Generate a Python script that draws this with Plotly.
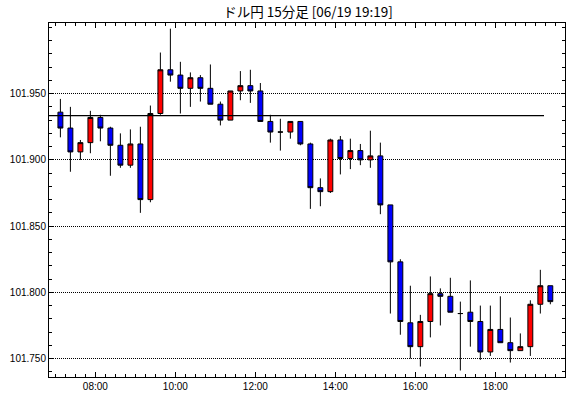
import plotly.graph_objects as go
import pandas as pd

title_text = "ドル円 15分足 [06/19 19:19]"
times = pd.date_range("2014-06-19 07:00", periods=50, freq="15min")

opens = [101.936, 101.924, 101.906, 101.913, 101.932, 101.924, 101.911, 101.896, 101.912, 101.870,
         101.935, 101.968, 101.964, 101.954, 101.962, 101.954, 101.942, 101.930, 101.952, 101.956,
         101.952, 101.929, 101.921, 101.921, 101.929, 101.912, 101.879, 101.876, 101.915, 101.901,
         101.907, 101.900, 101.903, 101.866, 101.823, 101.777, 101.759, 101.778, 101.799, 101.797,
         101.784, 101.785, 101.778, 101.755, 101.772, 101.762, 101.756, 101.759, 101.791, 101.805]
highs = [101.946, 101.940, 101.915, 101.937, 101.934, 101.925, 101.920, 101.923, 101.925, 101.941,
         101.981, 101.999, 101.974, 101.966, 101.964, 101.972, 101.944, 101.952, 101.967, 101.968,
         101.958, 101.934, 101.931, 101.929, 101.929, 101.913, 101.886, 101.916, 101.918, 101.916,
         101.912, 101.922, 101.913, 101.866, 101.825, 101.805, 101.783, 101.812, 101.803, 101.811,
         101.793, 101.809, 101.790, 101.790, 101.797, 101.781, 101.769, 101.794, 101.817, 101.805]
lows = [101.917, 101.891, 101.900, 101.905, 101.914, 101.888, 101.894, 101.894, 101.860, 101.868,
        101.934, 101.959, 101.935, 101.940, 101.944, 101.942, 101.926, 101.930, 101.945, 101.943,
        101.929, 101.913, 101.907, 101.916, 101.911, 101.863, 101.865, 101.875, 101.889, 101.893,
        101.896, 101.894, 101.859, 101.784, 101.768, 101.750, 101.744, 101.766, 101.775, 101.785,
        101.741, 101.759, 101.749, 101.752, 101.762, 101.747, 101.756, 101.752, 101.784, 101.791]
closes = [101.924, 101.906, 101.913, 101.932, 101.924, 101.911, 101.896, 101.912, 101.870, 101.935,
          101.968, 101.964, 101.954, 101.962, 101.954, 101.942, 101.930, 101.952, 101.956, 101.952,
          101.929, 101.921, 101.921, 101.929, 101.912, 101.879, 101.876, 101.915, 101.901, 101.907,
          101.900, 101.903, 101.866, 101.823, 101.778, 101.759, 101.778, 101.799, 101.797, 101.785,
          101.784, 101.778, 101.755, 101.772, 101.762, 101.756, 101.759, 101.791, 101.805, 101.793]

ref_level = 101.9334
ref_start = "2014-06-19 06:50:24"
ref_end = "2014-06-19 19:13"

y_tickvals = [101.750, 101.800, 101.850, 101.900, 101.950]
y_ticktext = ["101.750", "101.800", "101.850", "101.900", "101.950"]
x_tickvals = ["2014-06-19 08:00", "2014-06-19 10:00", "2014-06-19 12:00",
              "2014-06-19 14:00", "2014-06-19 16:00", "2014-06-19 18:00"]
x_ticktext = ["08:00", "10:00", "12:00", "14:00", "16:00", "18:00"]

x_range = ["2014-06-19 06:50:24", "2014-06-19 19:44:30"]
y_range = [101.7361, 102.0033]

fig = go.Figure()
fig.add_trace(go.Scatter(
    x=[ref_start, ref_end], y=[ref_level, ref_level], mode="lines",
    line=dict(color="black", width=1.2), hoverinfo="skip"))
fig.add_trace(go.Candlestick(
    x=times, open=opens, high=highs, low=lows, close=closes,
    xperiod=900000, xperiodalignment="middle",
    increasing=dict(fillcolor="#FF0000", line=dict(color="black", width=1)),
    decreasing=dict(fillcolor="#0000FF", line=dict(color="black", width=1)),
    whiskerwidth=0))

axis_font = dict(family="Liberation Sans, Arial, sans-serif", size=10, color="black")
fig.update_layout(
    width=570, height=398,
    margin=dict(l=49, r=5, t=23, b=21, autoexpand=False),
    paper_bgcolor="white", plot_bgcolor="white",
    showlegend=False,
    title=dict(text=title_text, x=0.5404, xanchor="center", y=0.968, yanchor="middle",
               font=dict(family="Noto Sans CJK JP, sans-serif", size=13.5, color="black")),
    xaxis=dict(
        type="date", range=x_range, rangeslider=dict(visible=False),
        tickvals=x_tickvals, ticktext=x_ticktext,
        ticks="inside", ticklen=5, tickcolor="black", tickwidth=1,
        minor=dict(ticks="inside", ticklen=3, dtick=900000, tick0="2014-06-19 07:00",
                   tickcolor="black", tickwidth=1, showgrid=False),
        showgrid=False, showline=True, linecolor="black", linewidth=1, mirror="ticks",
        tickfont=axis_font, zeroline=False, automargin=False),
    yaxis=dict(
        range=y_range, tickvals=y_tickvals, ticktext=y_ticktext,
        ticks="inside", ticklen=4, tickcolor="black", tickwidth=1,
        minor=dict(ticks="inside", ticklen=3, dtick=0.01, tick0=101.75,
                   tickcolor="black", tickwidth=1, showgrid=False),
        showgrid=True, gridcolor="black", gridwidth=1, griddash="1px,1px",
        showline=True, linecolor="black", linewidth=1, mirror="ticks",
        tickfont=axis_font, zeroline=False, automargin=False),
)

fig.write_html("out.html", config={"displayModeBar": False},
               post_script="document.body.style.margin='0';document.body.style.padding='0';")
